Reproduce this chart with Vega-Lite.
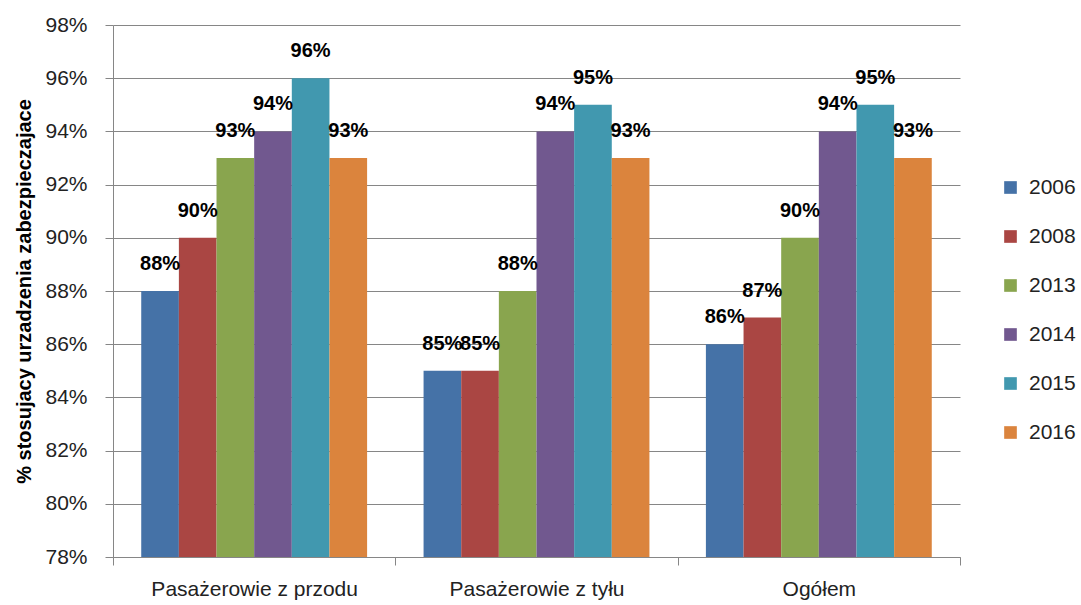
{
  "$schema": "https://vega.github.io/schema/vega-lite/v6.json",
  "width": 847,
  "height": 532,
  "autosize": {"type": "none"},
  "padding": {"left": 113, "top": 25, "right": 121, "bottom": 48},
  "background": "white",
  "config": {
    "view": {"stroke": null},
    "font": "Liberation Sans"
  },
  "data": {
    "values": [
      {"kategoria": "Pasażerowie z przodu", "rok": "2006", "wartosc": 0.88},
      {"kategoria": "Pasażerowie z przodu", "rok": "2008", "wartosc": 0.90},
      {"kategoria": "Pasażerowie z przodu", "rok": "2013", "wartosc": 0.93},
      {"kategoria": "Pasażerowie z przodu", "rok": "2014", "wartosc": 0.94},
      {"kategoria": "Pasażerowie z przodu", "rok": "2015", "wartosc": 0.96},
      {"kategoria": "Pasażerowie z przodu", "rok": "2016", "wartosc": 0.93},
      {"kategoria": "Pasażerowie z tyłu", "rok": "2006", "wartosc": 0.85},
      {"kategoria": "Pasażerowie z tyłu", "rok": "2008", "wartosc": 0.85},
      {"kategoria": "Pasażerowie z tyłu", "rok": "2013", "wartosc": 0.88},
      {"kategoria": "Pasażerowie z tyłu", "rok": "2014", "wartosc": 0.94},
      {"kategoria": "Pasażerowie z tyłu", "rok": "2015", "wartosc": 0.95},
      {"kategoria": "Pasażerowie z tyłu", "rok": "2016", "wartosc": 0.93},
      {"kategoria": "Ogółem", "rok": "2006", "wartosc": 0.86},
      {"kategoria": "Ogółem", "rok": "2008", "wartosc": 0.87},
      {"kategoria": "Ogółem", "rok": "2013", "wartosc": 0.90},
      {"kategoria": "Ogółem", "rok": "2014", "wartosc": 0.94},
      {"kategoria": "Ogółem", "rok": "2015", "wartosc": 0.95},
      {"kategoria": "Ogółem", "rok": "2016", "wartosc": 0.93}
    ]
  },
  "encoding": {
    "x": {
      "field": "kategoria",
      "type": "nominal",
      "sort": ["Pasażerowie z przodu", "Pasażerowie z tyłu", "Ogółem"],
      "scale": {"paddingInner": 0, "paddingOuter": 0},
      "axis": {
        "title": null,
        "labelAngle": 0,
        "labelFontSize": 21,
        "labelLimit": 400,
        "labelColor": "#222222",
        "labelPadding": 13,
        "tickBand": "extent",
        "tickSize": 8,
        "tickColor": "#868686",
        "domainColor": "#868686",
        "grid": false
      }
    },
    "xOffset": {
      "field": "rok",
      "type": "nominal",
      "scale": {"paddingInner": 0, "paddingOuter": 0.75}
    },
    "y": {
      "field": "wartosc",
      "type": "quantitative",
      "scale": {"domain": [0.78, 0.98], "zero": false, "nice": false},
      "axis": {
        "title": "% stosujacy urzadzenia zabezpieczajace",
        "titleFontSize": 20,
        "titleFontWeight": "bold",
        "titleColor": "#000000",
        "titleX": -89,
        "titleY": 266,
        "titleAlign": "center",
        "titleBaseline": "middle",
        "titleAngle": -90,
        "format": ".0%",
        "values": [0.78, 0.80, 0.82, 0.84, 0.86, 0.88, 0.90, 0.92, 0.94, 0.96, 0.98],
        "labelFontSize": 21,
        "labelColor": "#222222",
        "labelPadding": 18,
        "tickSize": 8,
        "tickColor": "#868686",
        "domainColor": "#868686",
        "gridColor": "#868686",
        "gridWidth": 1
      }
    }
  },
  "layer": [
    {
      "mark": {"type": "bar"},
      "encoding": {
        "y2": {"datum": 0.78},
        "color": {
          "field": "rok",
          "type": "nominal",
          "scale": {
            "domain": ["2006", "2008", "2013", "2014", "2015", "2016"],
            "range": ["#4572A7", "#AA4643", "#89A54E", "#71588F", "#4198AF", "#DB843D"]
          },
          "legend": {
            "title": null,
            "orient": "none",
            "legendX": 887,
            "legendY": 152,
            "symbolType": "square",
            "symbolSize": 160,
            "symbolStrokeWidth": 0,
            "labelFontSize": 21,
            "labelColor": "#222222",
            "rowPadding": 27,
            "labelOffset": 8
          }
        }
      }
    },
    {
      "mark": {
        "type": "text",
        "fontSize": 20,
        "fontWeight": "bold",
        "baseline": "bottom",
        "dy": -17,
        "color": "#000000"
      },
      "encoding": {
        "text": {"field": "wartosc", "type": "quantitative", "format": ".0%"}
      }
    }
  ]
}
